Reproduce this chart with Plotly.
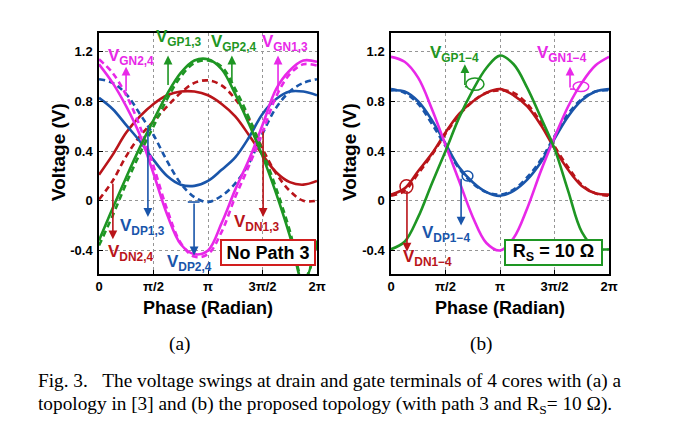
import numpy as np
import plotly.graph_objects as go

PI = np.pi
# phase sample points (rad), k*pi/8
phase = [k * PI / 8 for k in range(17)]

# ---- (a) topology in [3], no path 3 ----
a_vgp13 = [-0.32, -0.06, 0.19, 0.43, 0.65, 0.86, 1.03, 1.13, 1.14, 1.06, 0.86, 0.62, 0.36, 0.06, -0.28, -0.66, -0.32]
a_vgp24 = [-0.36, -0.12, 0.14, 0.38, 0.60, 0.82, 1.00, 1.11, 1.13, 1.08, 0.90, 0.67, 0.40, 0.10, -0.24, -0.64, -0.36]
a_vgn13 = [1.10, 0.95, 0.76, 0.53, 0.22, -0.11, -0.35, -0.43, -0.40, -0.18, 0.09, 0.33, 0.61, 0.90, 1.05, 1.13, 1.12]
a_vgn24 = [1.14, 1.03, 0.85, 0.60, 0.28, -0.07, -0.34, -0.45, -0.43, -0.25, 0.03, 0.28, 0.55, 0.84, 1.02, 1.10, 1.09]
a_vdp13 = [0.83, 0.74, 0.61, 0.48, 0.33, 0.20, 0.13, 0.12, 0.16, 0.25, 0.35, 0.51, 0.70, 0.82, 0.88, 0.88, 0.85]
a_vdp24 = [0.98, 0.95, 0.86, 0.70, 0.53, 0.32, 0.14, 0.03, -0.01, 0.04, 0.14, 0.30, 0.54, 0.75, 0.88, 0.95, 0.98]
a_vdn13 = [0.21, 0.37, 0.55, 0.68, 0.78, 0.85, 0.88, 0.88, 0.85, 0.78, 0.68, 0.53, 0.37, 0.23, 0.15, 0.13, 0.16]
a_vdn24 = [0.01, 0.16, 0.36, 0.52, 0.64, 0.76, 0.87, 0.95, 0.97, 0.93, 0.82, 0.66, 0.42, 0.22, 0.08, 0.00, 0.00]

# ---- (b) proposed topology, Rs = 10 ohm ----
b_vgp = [-0.39, -0.33, -0.13, 0.14, 0.40, 0.67, 0.89, 1.07, 1.17, 1.10, 0.91, 0.67, 0.42, 0.08, -0.25, -0.38, -0.39]
b_vgn = [1.16, 1.12, 0.99, 0.74, 0.45, 0.16, -0.13, -0.34, -0.40, -0.30, -0.06, 0.24, 0.51, 0.76, 0.95, 1.09, 1.16]
b_vdp = [0.89, 0.88, 0.80, 0.65, 0.46, 0.27, 0.15, 0.07, 0.04, 0.08, 0.17, 0.31, 0.50, 0.68, 0.81, 0.88, 0.90]
b_vdp_d = [0.90, 0.87, 0.78, 0.62, 0.44, 0.26, 0.14, 0.07, 0.05, 0.09, 0.19, 0.33, 0.52, 0.70, 0.82, 0.88, 0.89]
b_vdn = [0.05, 0.10, 0.24, 0.38, 0.55, 0.70, 0.80, 0.87, 0.90, 0.85, 0.76, 0.61, 0.42, 0.25, 0.12, 0.06, 0.05]
b_vdn_d = [0.04, 0.08, 0.22, 0.37, 0.54, 0.69, 0.80, 0.87, 0.89, 0.87, 0.78, 0.63, 0.44, 0.27, 0.13, 0.06, 0.04]

xtick_vals = [0, PI / 2, PI, 3 * PI / 2, 2 * PI]
xtick_text = ["0", "π/2", "π", "3π/2", "2π"]
ytick_vals = [-0.4, 0, 0.4, 0.8, 1.2]
ytick_text = ["-0.4", "0", "0.4", "0.8", "1.2"]

GREEN = "rgb(30,150,35)"
MAG = "rgb(232,40,232)"
BLUE = "rgb(25,85,170)"
RED = "rgb(185,20,25)"

fig = go.Figure()


def add(y, color, dash, xa, ya):
    fig.add_trace(go.Scatter(
        x=phase, y=y, mode="lines", xaxis=xa, yaxis=ya,
        line=dict(color=color, width=2.6, dash=dash, shape="spline", smoothing=1.0),
        showlegend=False, hoverinfo="skip"))


for y, c, d in [(a_vdn13, RED, "solid"), (a_vdn24, RED, "6px,4px"),
                (a_vdp13, BLUE, "solid"), (a_vdp24, BLUE, "6px,4px"),
                (a_vgn13, MAG, "solid"), (a_vgn24, MAG, "6px,4px"),
                (a_vgp13, GREEN, "solid"), (a_vgp24, GREEN, "6px,4px")]:
    add(y, c, d, "x", "y")

for y, c, d in [(b_vdn_d, RED, "6px,4px"), (b_vdn, RED, "solid"),
                (b_vdp_d, BLUE, "6px,4px"), (b_vdp, BLUE, "solid"),
                (b_vgn, MAG, "solid"), (b_vgp, GREEN, "solid")]:
    add(y, c, d, "x2", "y2")

# page body has an 8px margin: figure spans window pixels 8..678 / 8..426
OFF = 8
W, H = 678 - OFF, 426 - OFF


def px(v):
    return (v - OFF) / W


def py(v):
    return 1 - (v - OFF) / H


ax_common = dict(showline=True, linecolor="black", linewidth=1.5, mirror=True,
                 ticks="inside", ticklen=4, tickcolor="black",
                 showgrid=True, gridcolor="rgb(150,150,150)", gridwidth=1, griddash="3px,3px",
                 zeroline=False, automargin=False,
                 tickfont=dict(family="Liberation Sans, Arial", size=13, color="black", weight="bold"))

xa = dict(ax_common, range=[0, 2 * PI], tickvals=xtick_vals, ticktext=xtick_text, ticklabelstandoff=0)
ya = dict(ax_common, range=[-0.59, 1.352], tickvals=ytick_vals, ticktext=ytick_text, ticklabelstandoff=2)

fig.update_layout(
    width=W, height=H, margin=dict(l=0, r=0, t=0, b=0),
    paper_bgcolor="white", plot_bgcolor="white",
    xaxis=dict(xa, domain=[px(99), px(317)], anchor="y"),
    yaxis=dict(ya, domain=[py(274), py(33)], anchor="x"),
    xaxis2=dict(xa, domain=[px(391), px(609)], anchor="y2"),
    yaxis2=dict(ya, domain=[py(274), py(33)], anchor="x2"),
)

LBL = dict(family="Liberation Sans, Arial", size=17)


def label(xref, yref, x, y, text, color):
    fig.add_annotation(x=x, y=y, xref=xref, yref=yref, text="<b>" + text + "</b>",
                       showarrow=False, font=dict(LBL, color=color), xanchor="center", yanchor="middle")


def arrow(xref, yref, x0, y0, x1, y1, color):
    fig.add_annotation(x=x1, y=y1, ax=x0, ay=y0, xref=xref, yref=yref, axref=xref, ayref=yref,
                       text="", showarrow=True, arrowhead=2, arrowsize=1.1, arrowwidth=1.6,
                       arrowcolor=color, standoff=0, startstandoff=0)


# ---- (a) labels and arrows ----
label("x", "y", 0.92, 1.16, "V<sub>GN2,4</sub>", MAG)
arrow("x", "y", 0.78, 0.87, 0.78, 1.08, MAG)
label("x", "y", 2.28, 1.31, "V<sub>GP1,3</sub>", GREEN)
arrow("x", "y", 1.99, 0.92, 1.99, 1.17, GREEN)
label("x", "y", 3.89, 1.27, "V<sub>GP2,4</sub>", GREEN)
arrow("x", "y", 3.83, 0.95, 3.83, 1.17, GREEN)
label("x", "y", 5.36, 1.27, "V<sub>GN1,3</sub>", MAG)
arrow("x", "y", 5.16, 0.87, 5.16, 1.17, MAG)
label("x", "y", 1.24, -0.21, "V<sub>DP1,3</sub>", BLUE)
arrow("x", "y", 1.41, 0.60, 1.41, -0.13, BLUE)
label("x", "y", 0.92, -0.42, "V<sub>DN2,4</sub>", RED)
arrow("x", "y", 0.40, 0.15, 0.40, -0.31, RED)
label("x", "y", 2.62, -0.50, "V<sub>DP2,4</sub>", BLUE)
arrow("x", "y", 2.74, -0.01, 2.74, -0.44, BLUE)
fig.add_shape(type="line", xref="x", yref="y", x0=2.56, x1=2.90, y0=-0.01, y1=-0.01,
              line=dict(color=BLUE, width=1.6))
label("x", "y", 4.55, -0.18, "V<sub>DN1,3</sub>", RED)
arrow("x", "y", 4.73, 0.57, 4.73, -0.13, RED)

fig.add_annotation(x=4.87, y=-0.415, xref="x", yref="y", xanchor="center", yanchor="middle",
                   text="<b>No Path 3</b>", showarrow=False,
                   font=dict(family="Liberation Sans, Arial", size=18, color="black"),
                   bgcolor="white", bordercolor="rgb(210,30,30)", borderwidth=2, borderpad=0,
                   width=92, height=23)

# ---- (b) labels, ellipses and arrows ----
def ell(x0, x1, y0, y1, color):
    fig.add_shape(type="circle", xref="x2", yref="y2", x0=x0, x1=x1, y0=y0, y1=y1,
                  line=dict(color=color, width=1.5))


def seg(x0, y0, x1, y1, color):
    fig.add_shape(type="line", xref="x2", yref="y2", x0=x0, x1=x1, y0=y0, y1=y1,
                  line=dict(color=color, width=1.6))


label("x2", "y2", 1.84, 1.18, "V<sub>GP1−4</sub>", GREEN)
ell(2.16, 2.68, 0.89, 0.99, GREEN)
seg(2.13, 0.92, 2.20, 0.92, GREEN)
arrow("x2", "y2", 2.13, 0.92, 2.13, 1.10, GREEN)

label("x2", "y2", 4.93, 1.18, "V<sub>GN1−4</sub>", MAG)
ell(5.25, 5.70, 0.88, 0.96, MAG)
seg(5.16, 0.90, 5.28, 0.90, MAG)
arrow("x2", "y2", 5.16, 0.90, 5.16, 1.08, MAG)

label("x2", "y2", 1.59, -0.27, "V<sub>DP1−4</sub>", BLUE)
ell(2.05, 2.36, 0.16, 0.24, BLUE)
arrow("x2", "y2", 2.02, 0.19, 2.02, -0.20, BLUE)

label("x2", "y2", 1.04, -0.46, "V<sub>DN1−4</sub>", RED)
ell(0.26, 0.63, 0.06, 0.17, RED)
arrow("x2", "y2", 0.46, 0.09, 0.46, -0.41, RED)

fig.add_annotation(x=4.68, y=-0.42, xref="x2", yref="y2", xanchor="center", yanchor="middle",
                   text="<b>R<sub>S</sub> = 10 Ω</b>", showarrow=False,
                   font=dict(family="Liberation Sans, Arial", size=18, color="black"),
                   bgcolor="white", bordercolor=GREEN, borderwidth=2, borderpad=0,
                   width=95, height=23)

# ---- axis titles ----
TT = dict(family="Liberation Sans, Arial", size=18, color="black")
for cx in (58, 349):
    fig.add_annotation(x=px(cx), y=py(152), xref="paper", yref="paper", xanchor="center", yanchor="middle",
                       text="<b>Voltage (V)</b>", textangle=-90, showarrow=False,
                       font=dict(TT, size=19))
for cx in (208, 500):
    fig.add_annotation(x=px(cx), y=py(308), xref="paper", yref="paper", xanchor="center", yanchor="middle",
                       text="<b>Phase (Radian)</b>", showarrow=False, font=TT)

# ---- sub-figure labels and caption ----
SER = dict(family="Liberation Serif, Times New Roman", size=19.3, color="black")
for cx, t in ((179, "(a)"), (481, "(b)")):
    fig.add_annotation(x=px(cx), y=py(344), xref="paper", yref="paper", xanchor="center", yanchor="middle",
                       text=t, showarrow=False, font=SER)
fig.add_annotation(x=px(36), y=py(381), xref="paper", yref="paper", xanchor="left", yanchor="middle",
                   text="Fig. 3.\u00a0\u00a0\u00a0The voltage swings at drain and gate terminals of 4 cores with (a) a",
                   showarrow=False, font=SER)
fig.add_annotation(x=px(36), y=py(405), xref="paper", yref="paper", xanchor="left", yanchor="middle",
                   text="topology in [3] and (b) the proposed topology (with path 3 and R<sub>S</sub>= 10 Ω).",
                   showarrow=False, font=SER)

fig.write_html("out.html")
